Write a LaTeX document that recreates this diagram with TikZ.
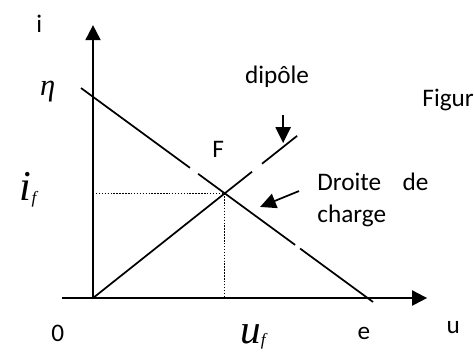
\documentclass[tikz,border=0pt]{standalone}
\usepackage{fontspec}
\setsansfont{Carlito}
\newfontfamily\symserif{Liberation Serif}
\usetikzlibrary{arrows.meta,calc,positioning}

\begin{document}
\begin{tikzpicture}[
  axis/.style={
    line width=1.5pt,
    -{Triangle[length=4mm,width=4mm]}
  },
  curve/.style={
    line width=1.3pt, black
  },
  guide/.style={
    line width=0.8pt, dash pattern=on 1.1pt off 1.1pt
  },
  pointer/.style={
    line width=1.3pt,
    -{Triangle[length=4.2mm,width=4mm]}
  },
  txtlabel/.style={
    font=\sffamily\fontsize{19}{24}\selectfont, inner sep=0pt
  },
  symlabel/.style={
    font=\symserif\itshape, inner sep=0pt
  }
]

\useasboundingbox (-2.461,-1.402) rectangle (10.08,7.885);

% ==================== AXES ====================

\coordinate (orig) at (0,0);
\coordinate (xstart) at (-0.82,0);
\coordinate (xend) at (8.84,0);
\coordinate (ytop) at (0,7.22);

\draw [axis] (xstart) -- (xend);
\draw [axis] (orig) -- (ytop);

% ==================== CHARACTERISTICS ====================

% Load line (Droite de charge), with two small breaks
\coordinate (loadA) at (-0.318,5.556);
\coordinate (loadB) at (7.41,-0.106);
\draw [curve] (loadA) -- ($(loadA)!0.373!(loadB)$);
\draw [curve] ($(loadA)!0.401!(loadB)$) -- ($(loadA)!0.733!(loadB)$);
\draw [curve] ($(loadA)!0.750!(loadB)$) -- (loadB);

% Dipole characteristic, with one break
\coordinate (dipEnd) at (5.40,4.29);
\draw [curve] (orig) -- ($(orig)!0.779!(dipEnd)$);
\draw [curve] ($(orig)!0.828!(dipEnd)$) -- (dipEnd);

% Operating point F
\coordinate (ptF) at (3.49,2.77);
\draw [guide] (orig |- ptF) -- (ptF);
\draw [guide] (ptF) -- (ptF |- orig);

% ==================== POINTERS ====================

\coordinate (dipFrom) at (5.03,4.84);
\coordinate (dipTo) at (5.03,4.10);
\draw [pointer] (dipFrom) -- (dipTo);

\coordinate (chgFrom) at (5.45,2.83);
\coordinate (chgTo) at (4.42,2.41);
\draw [pointer] (chgFrom) -- (chgTo);

% ==================== LABELS ====================

\node (lbli) [txtlabel] at (-1.42,7.25) {i};
\node (lblu) [txtlabel] at (9.53,-0.79) {u};
\node (lblzero) [txtlabel] at (-0.93,-0.93) {0};
\node (lble) [txtlabel] at (7.17,-0.93) {e};
\node (lblF) [txtlabel] at (3.31,3.92) {F};

\node (lbleta) [symlabel] at (-1.20,5.45) {\fontsize{23}{23}\selectfont η};
\node (lblif) [symlabel] at (-1.72,2.86)
    {\fontsize{32}{32}\selectfont i\raisebox{-0.08em}{\fontsize{13}{13}\selectfont f}};
\node (lbluf) [symlabel] at (4.23,-1.02)
    {\fontsize{31}{31}\selectfont u\raisebox{-0.05em}{\fontsize{13}{13}\selectfont f}};

\node (lbldip) [txtlabel] at (4.87,5.85) {dip\^ole};
\node (lblchg) [txtlabel, align=left, anchor=west] at (5.93,2.59) {Droite\hspace{0.85em}de\\charge};
\node (lblfig) [txtlabel, anchor=west] at (8.71,5.24) {Figur};

\end{tikzpicture}
\end{document}
